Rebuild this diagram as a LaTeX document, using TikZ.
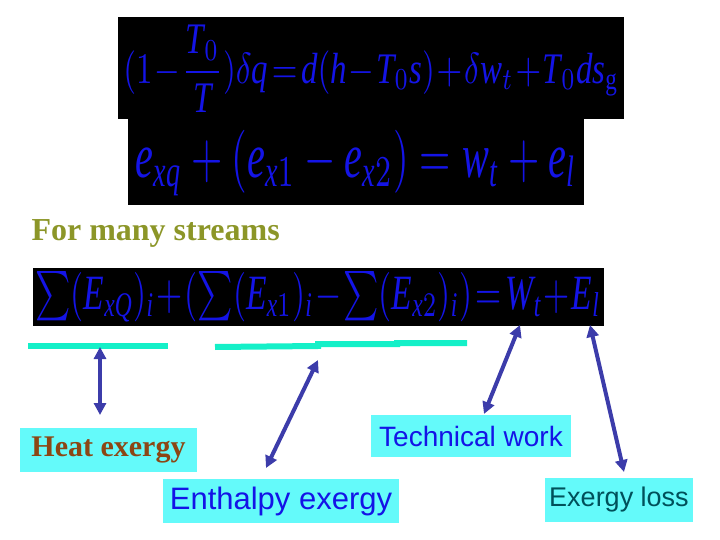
\documentclass[tikz,border=0pt]{standalone}
\usepackage{amsmath}
\usepackage{fontspec}
\usepackage{graphicx}
\setmainfont{Liberation Serif}
\setsansfont{Liberation Sans}
\usetikzlibrary{arrows.meta}
\definecolor{eqblue}{RGB}{20,20,230}
\definecolor{cyanbox}{RGB}{100,250,250}
\definecolor{lineg}{RGB}{20,240,200}
\definecolor{arr}{RGB}{60,60,170}
\newcommand{\vi}[1]{\text{\itshape #1}}
\tikzset{
  lab/.style={fill=cyanbox,inner sep=0pt},
  dbl/.style={arr,line width=4pt,{Triangle[width=12pt,length=12pt]}-{Triangle[width=12pt,length=12pt]}},
  cl/.style={lineg,line width=6pt}
}
\begin{document}
\begin{tikzpicture}[x=1pt,y=-1pt]
\useasboundingbox (0,0) rectangle (720,540);
\fill[black] (118,17) rectangle (624,119);
\fill[black] (128,119) rectangle (584,205);
\fill[black] (33,268) rectangle (604,326);
\node (e1) at (371,69) {\color{eqblue}\resizebox*{495pt}{88pt}{$\displaystyle(1\!-\!\frac{\vi{T}_0}{\vi{T}})\delta \vi{q}\!=\!\vi{d}(\vi{h}\!-\!\vi{T}_0\vi{s})\!+\!\delta \vi{w}_t\!+\!\vi{T}_0\vi{ds}_{\mathrm{g}}$}};
\node (e2) at (356,163) {\color{eqblue}\resizebox*{440pt}{66pt}{$\vi{e}_{\vi{xq}}+(\vi{e}_{\vi{x}1}-\vi{e}_{\vi{x}2})=\vi{w}_{\vi{t}}+\vi{e}_{\vi{l}}$}};
\node (e3) at (318,297) {\color{eqblue}\resizebox*{565pt}{50pt}{$\sum(\vi{E}_{\vi{xQ}})_{\vi{i}}\!+\!(\sum(\vi{E}_{\vi{x}1})_{\vi{i}}\!-\!\sum(\vi{E}_{\vi{x}2})_{\vi{i}})\!=\!\vi{W}_{\vi{t}}\!+\!\vi{E}_{\vi{l}}$}};
\node[anchor=west,text={rgb,255:red,140;green,150;blue,40},font=\bfseries\fontsize{32}{36}\selectfont] (ms) at (28,233) {For many streams};
\draw[cl] (28,346) -- (168,346);
\draw[cl] (215,347) -- (318,346) -- (318,344) -- (397,344) -- (397,343) -- (467,343);
\node[lab,minimum width=177pt,minimum height=44pt,text={rgb,255:red,140;green,70;blue,20},font=\bfseries\fontsize{30}{34}\selectfont] (he) at (108.5,450) {Heat exergy};
\node[lab,minimum width=236pt,minimum height=44pt,text=eqblue,font=\sffamily\fontsize{31}{34}\selectfont] (en) at (281,501) {Enthalpy exergy};
\node[lab,minimum width=200pt,minimum height=42pt,text=eqblue,font=\sffamily\fontsize{28}{31}\selectfont] (tw) at (471,436) {Technical work};
\node[lab,minimum width=148pt,minimum height=44pt,text={rgb,255:red,0;green,80;blue,90},font=\sffamily\fontsize{27}{30}\selectfont] (el) at (619,500) {Exergy loss};
\coordinate (a1) at (100,347); \coordinate (a2) at (100,415);
\coordinate (b1) at (266,468); \coordinate (b2) at (318,360);
\coordinate (c1) at (484,414); \coordinate (c2) at (520,325);
\coordinate (d1) at (624,472); \coordinate (d2) at (590,325);
\draw[dbl] (a1) -- (a2);
\draw[dbl] (b1) -- (b2);
\draw[dbl] (c1) -- (c2);
\draw[dbl] (d1) -- (d2);
\end{tikzpicture}
\end{document}
